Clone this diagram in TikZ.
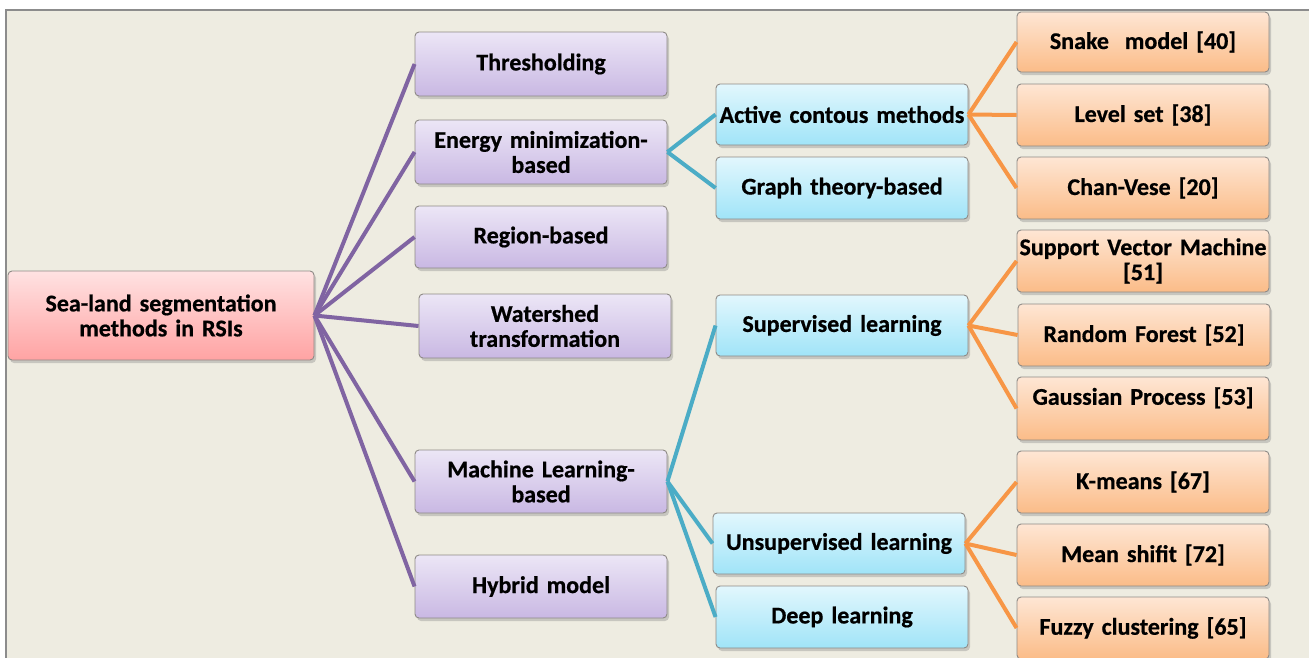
\documentclass[tikz,border=0pt]{standalone}
\usepackage{fontspec}
\setmainfont{Carlito}[WordSpace=0.6, BoldFeatures={FakeBold=0.6}]
\usetikzlibrary{shadows}
\definecolor{bgtan}{HTML}{EEECE1}
\definecolor{framegray}{HTML}{8C8C8C}
\definecolor{linepurple}{HTML}{8064A2}
\definecolor{linecyan}{HTML}{4BACC6}
\definecolor{lineorange}{HTML}{F79646}
\definecolor{purpletop}{HTML}{ECE6F6}
\definecolor{purplebot}{HTML}{C9B8E3}
\definecolor{cyantop}{HTML}{E2F7FD}
\definecolor{cyanbot}{HTML}{A0E4F8}
\definecolor{orangetop}{HTML}{FEE6D4}
\definecolor{orangebot}{HTML}{FBBC88}
\definecolor{pinktop}{HTML}{FFE2E2}
\definecolor{pinkbot}{HTML}{FFA3A3}
\definecolor{boxedge}{HTML}{8E8A86}
\tikzset{
  box/.style={rectangle, rounded corners=4pt, draw=boxedge, line width=0.9pt,
    inner sep=0pt, align=center, minimum width=250pt, text width=252pt,
    font=\fontsize{24}{25}\selectfont\bfseries,
    drop shadow={shadow xshift=2pt, shadow yshift=-3pt, opacity=0.35}},
  rootbox/.style={box, top color=pinktop, bottom color=pinkbot,
    minimum width=306pt, text width=300pt, minimum height=89pt},
  lvlone/.style={box, top color=purpletop, bottom color=purplebot},
  lvltwo/.style={box, top color=cyantop, bottom color=cyanbot},
  lvlthree/.style={box, top color=orangetop, bottom color=orangebot},
  purpleedge/.style={draw=linepurple, line width=4pt},
  cyanedge/.style={draw=linecyan, line width=4pt},
  orangeedge/.style={draw=lineorange, line width=4pt},
}
\begin{document}
\begin{tikzpicture}[x=1pt, y=-1pt]
  % page and framed panel
  \useasboundingbox (0,0) rectangle (1309,657);
  \fill[white] (0,0) rectangle (1309,657);
  \fill[bgtan] (6,10) rectangle (1312,662);
  \draw[framegray, line width=2pt] (6,662) -- (6,10) -- (1312,10);

  % root
  \node[rootbox] (root) at (161,315.5) {Sea-land segmentation\\methods in RSIs};

  % first level
  \node[lvlone, minimum height=64pt] (thr) at (541,64) {Thresholding};
  \node[lvlone, minimum height=64pt] (energy) at (541,152) {Energy minimization-\\based};
  \node[lvlone, minimum height=62pt] (region) at (541,237) {Region-based};
  \node[lvlone, minimum height=64pt] (water) at (545,326) {Watershed\\transformation};
  \node[lvlone, minimum height=63pt] (ml) at (541,481.5) {Machine Learning-\\based};
  \node[lvlone, minimum height=63pt] (hybrid) at (541,586.5) {Hybrid model};

  % second level
  \node[lvltwo, minimum width=252pt, minimum height=61pt] (active) at (842,114.5) {Active contous methods};
  \node[lvltwo, minimum width=252pt, minimum height=62pt] (graph) at (842,188) {Graph theory-based};
  \node[lvltwo, minimum width=252pt, minimum height=61pt] (sup) at (842,325.5) {Supervised learning};
  \node[lvltwo, minimum height=61pt] (unsup) at (839,543.5) {Unsupervised learning};
  \node[lvltwo, minimum width=252pt, minimum height=62pt] (deep) at (842,617) {Deep learning};

  % third level
  \node[lvlthree, minimum height=60pt] (snake) at (1143,42) {Snake~ model [40]};
  \node[lvlthree, minimum height=62pt] (level) at (1143,115) {Level set [38]};
  \node[lvlthree, minimum height=62pt] (chan) at (1143,188) {Chan-Vese [20]};
  \node[lvlthree, minimum height=62pt] (svm) at (1143,261) {Support Vector Machine\\{}[51]};
  \node[lvlthree, minimum height=62pt] (rf) at (1144,335) {Random Forest [52]};
  \node[lvlthree, minimum height=63pt] (gp) at (1143,408.5) {Gaussian Process [53]\\~};
  \node[lvlthree, minimum height=62pt] (km) at (1143,482) {K-means [67]};
  \node[lvlthree, minimum height=62pt] (ms) at (1143,555) {Mean shifit [72]};
  \node[lvlthree, minimum height=62pt] (fuzzy) at (1143,628) {Fuzzy clustering [65]};

  % connectors
  \foreach \t in {thr,energy,region,water,ml,hybrid}
    \path[purpleedge] (root.east) -- (\t.west);
  \foreach \t in {active,graph}
    \path[cyanedge] (energy.east) -- (\t.west);
  \foreach \t in {sup,unsup,deep}
    \path[cyanedge] (ml.east) -- (\t.west);
  \foreach \t in {snake,level,chan}
    \path[orangeedge] (active.east) -- (\t.west);
  \foreach \t in {svm,rf,gp}
    \path[orangeedge] (sup.east) -- (\t.west);
  \foreach \t in {km,ms,fuzzy}
    \path[orangeedge] (unsup.east) -- (\t.west);
\end{tikzpicture}
\end{document}
